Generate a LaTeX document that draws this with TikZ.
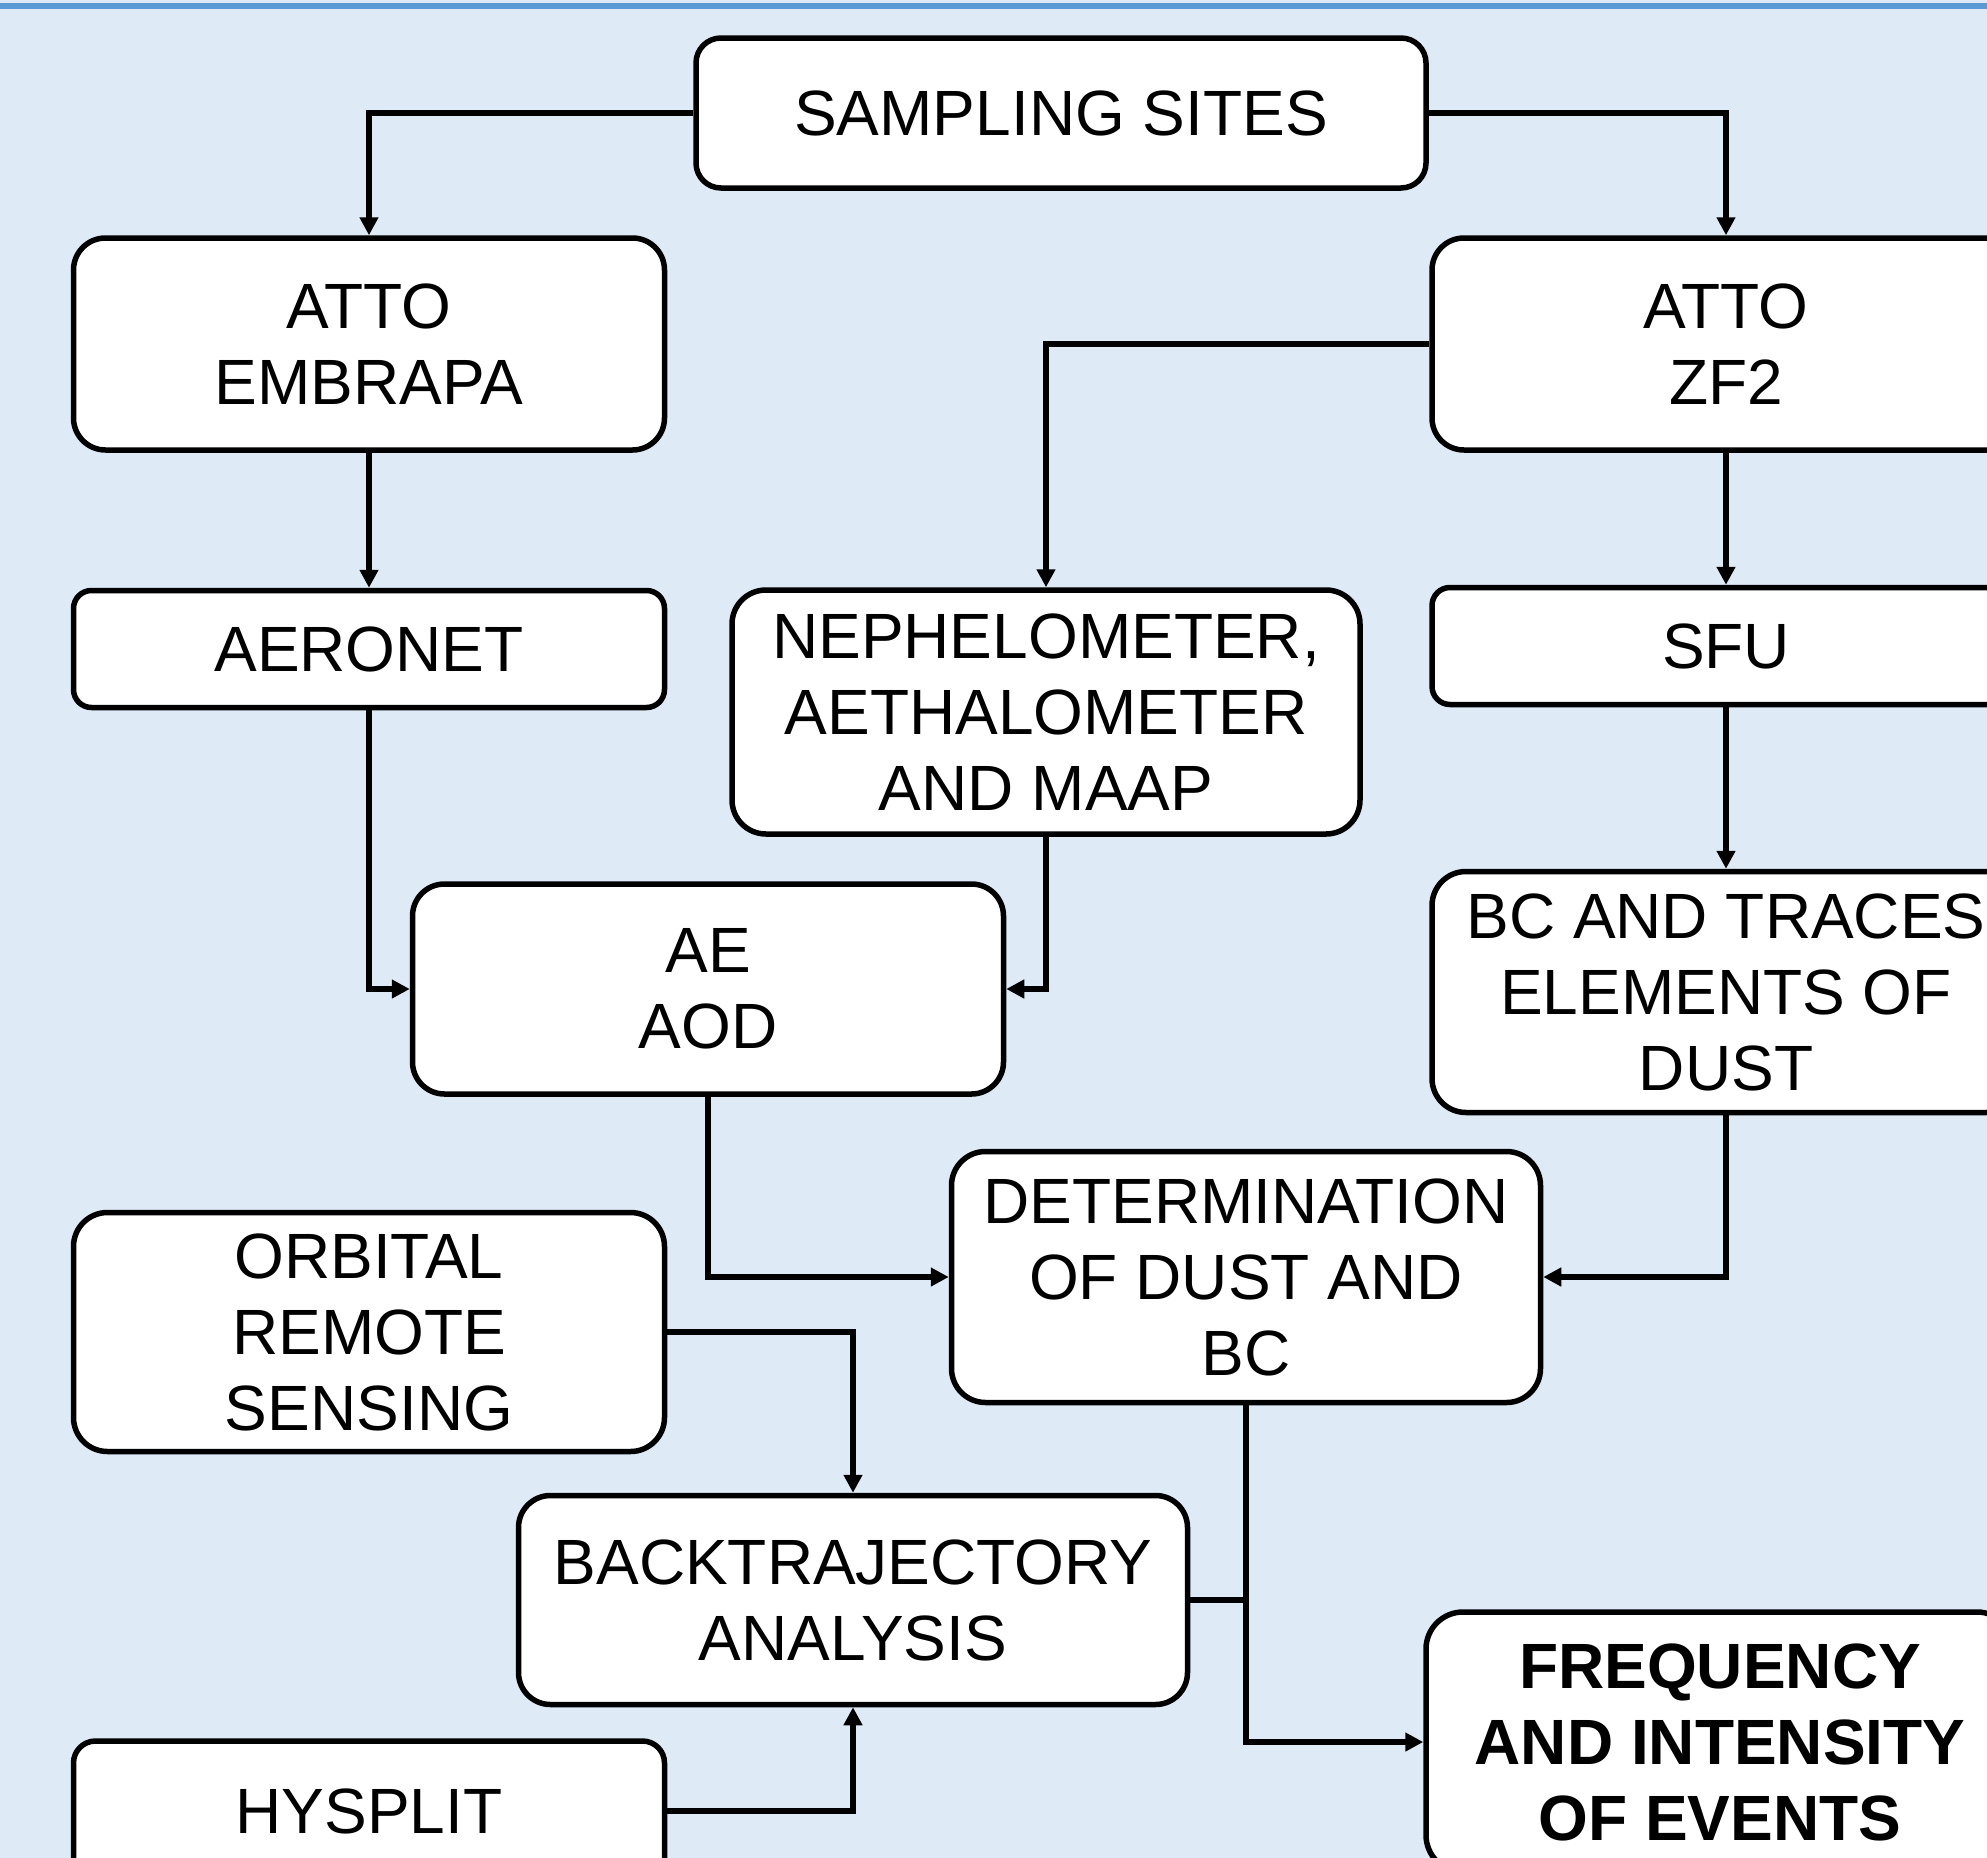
\documentclass[tikz,border=0pt]{standalone}
\usepackage{fontspec}
\setmainfont{Liberation Sans}
\usetikzlibrary{arrows.meta}
\definecolor{pagebg}{HTML}{DEEBF7}
\definecolor{bandblue}{HTML}{5B9BD5}
\begin{document}
\begin{tikzpicture}[x=1pt,y=-1pt,
  box/.style={draw=black, line width=5.5pt, fill=white, align=center,
    inner sep=0pt, font=\fontsize{64}{76}\selectfont},
  link/.style={line width=5.5pt, -{Triangle[length=18pt,width=18pt]}},
  plain/.style={line width=5.5pt}]
% page area and background
\useasboundingbox (0,0) rectangle (1987,1858);
\clip (0,0) rectangle (1987,1858);
\fill[pagebg] (0,0) rectangle (1987,1858);
\fill[bandblue] (0,3) rectangle (1987,9);

% boxes
\node[box, minimum width=730pt, minimum height=150pt, rounded corners=25pt] (sites) at (1061,113) {SAMPLING SITES};
\node[box, minimum width=591pt, minimum height=212pt, rounded corners=32pt] (embrapa) at (369,344) {ATTO\\EMBRAPA};
\node[box, minimum width=588pt, minimum height=212pt, rounded corners=32pt] (zf2) at (1726,344) {ATTO\\ZF2};
\node[box, minimum width=591pt, minimum height=117pt, rounded corners=18pt] (aeronet) at (369,649) {AERONET};
\node[box, minimum width=628pt, minimum height=244pt, rounded corners=34pt] (neph) at (1046,712) {NEPHELOMETER,\\AETHALOMETER\\AND MAAP};
\node[box, minimum width=588pt, minimum height=117pt, rounded corners=18pt] (sfu) at (1726,646) {SFU};
\node[box, minimum width=591pt, minimum height=210pt, rounded corners=32pt] (aod) at (708,989) {AE\\AOD};
\node[box, minimum width=588pt, minimum height=241pt, rounded corners=34pt] (bc) at (1726,992) {BC AND TRACES\\ELEMENTS OF\\DUST};
\node[box, minimum width=589pt, minimum height=251pt, rounded corners=34pt] (det) at (1246,1277) {DETERMINATION\\OF DUST AND\\BC};
\node[box, minimum width=591pt, minimum height=239pt, rounded corners=34pt] (orb) at (369,1332) {ORBITAL\\REMOTE\\SENSING};
\node[box, minimum width=669pt, minimum height=209pt, rounded corners=32pt] (traj) at (853,1600) {BACKTRAJECTORY\\ANALYSIS};
\node[box, minimum width=588pt, minimum height=260pt, rounded corners=37pt,
  font=\fontsize{64}{76}\selectfont\bfseries] (freq) at (1720,1742) {FREQUENCY\\AND INTENSITY\\OF EVENTS};
\node[box, minimum width=591pt, minimum height=140pt, rounded corners=22pt] (hysplit) at (369,1811) {HYSPLIT};

% connectors
\draw[link] (sites.west) -| (embrapa.north);
\draw[link] (sites.east) -| (zf2.north);
\draw[link] (embrapa.south) -- (aeronet.north);
\draw[link] (zf2.west) -| (neph.north);
\draw[link] (zf2.south) -- (sfu.north);
\draw[link] (aeronet.south) |- (aod.west);
\draw[link] (neph.south) |- (aod.east);
\draw[link] (sfu.south) -- (bc.north);
\draw[link] (aod.south) |- (det.west);
\draw[link] (bc.south) |- (det.east);
\draw[link] (orb.east) -| (traj.north);
\draw[link] (hysplit.east) -| (traj.south);
\draw[link] (det.south) |- (freq.west);
\draw[plain] (traj.east) -- (traj.east -| det.south);
\end{tikzpicture}
\end{document}
